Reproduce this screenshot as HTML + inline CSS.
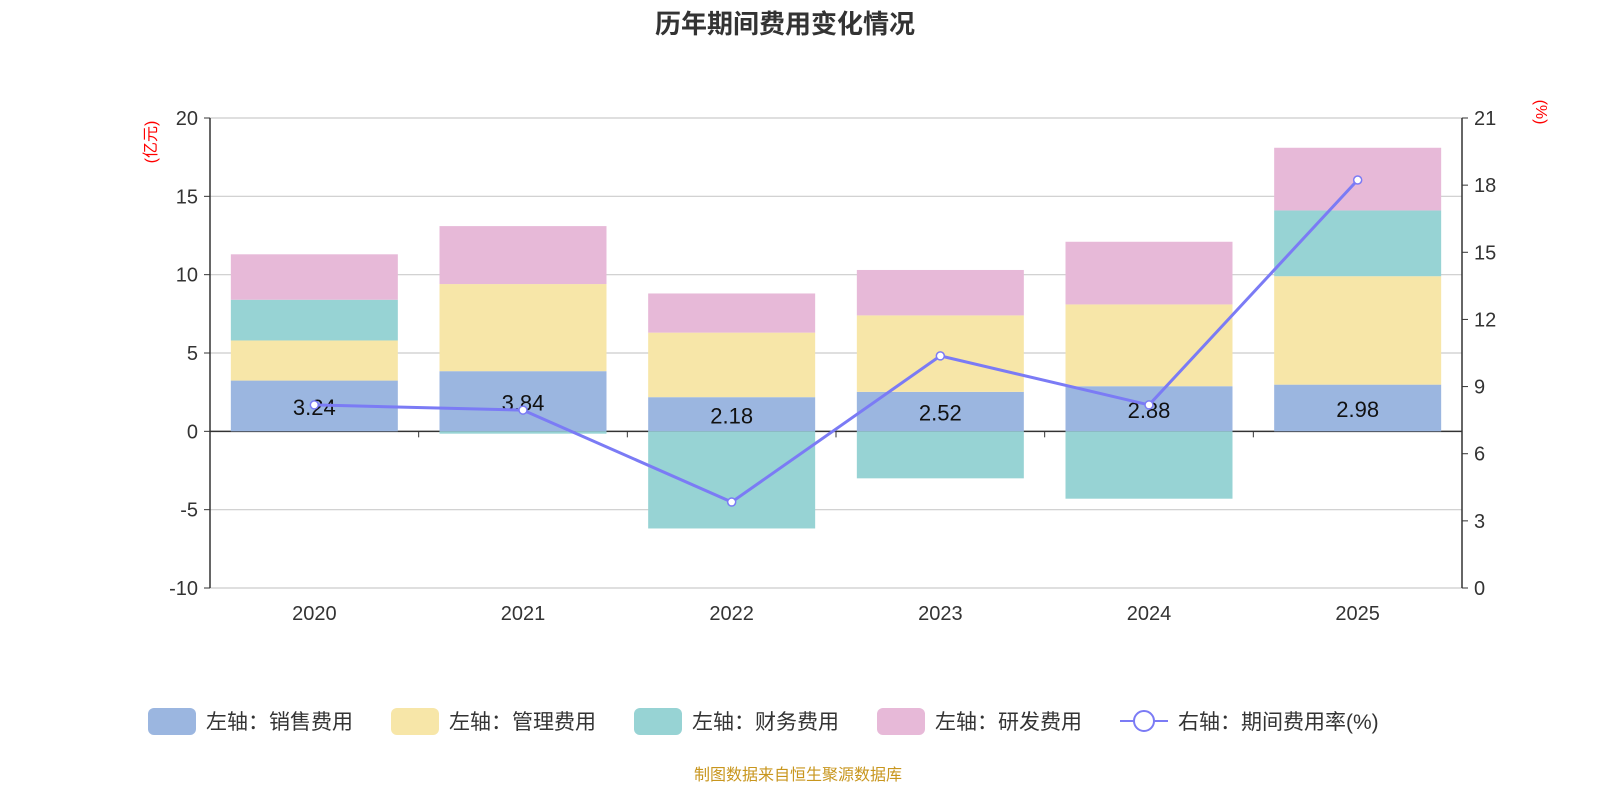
<!DOCTYPE html>
<html><head><meta charset="utf-8"><style>
body{margin:0;background:#fff;font-family:"Liberation Sans","Noto Sans CJK SC",sans-serif;}
svg text{font-family:"Liberation Sans","Noto Sans CJK SC",sans-serif;}
</style></head><body>
<svg id="c" width="1600" height="800" xmlns="http://www.w3.org/2000/svg">
<text x="785" y="33" text-anchor="middle" font-size="26" font-weight="bold" fill="#333">历年期间费用变化情况</text>
<text x="798" y="780" text-anchor="middle" font-size="16" fill="#c8961e">制图数据来自恒生聚源数据库</text>
</svg>
<script>
const categories=["2020","2021","2022","2023","2024","2025"];
const sales=[3.24,3.84,2.18,2.52,2.88,2.98];
const mgmt=[2.56,5.56,4.12,4.88,5.22,6.92];
const finance=[2.6,-0.15,-6.2,-3.0,-4.3,4.2];
const rnd=[2.9,3.7,2.5,2.9,4.0,4.0];
const rate=[8.18,7.95,3.84,10.37,8.18,18.23];
const leftTicks=[20,15,10,5,0,-5,-10];
const rightTicks=[21,18,15,12,9,6,3,0];
const NS="http://www.w3.org/2000/svg";
const svg=document.getElementById('c');
const X0=210,X1=1462,YT=118,YB=588;
const yL=v=>YT+(20-v)/30*(YB-YT);
const yR=v=>YB-v/21*(YB-YT);
const bw=(X1-X0)/categories.length;
const xc=i=>X0+bw*(i+0.5);
function mk(t,a,p){const e=document.createElementNS(NS,t);for(const k in a)e.setAttribute(k,a[k]);(p||svg).appendChild(e);return e;}
leftTicks.forEach(v=>{
 const g=mk('line',{x1:X0,x2:X1,y1:yL(v),y2:yL(v),stroke:v===0?'#333':'#ccc','stroke-width':v===0?1.5:1.2});
 
 
 mk('line',{x1:X0-6,x2:X0,y1:yL(v),y2:yL(v),stroke:'#333'});
 const t=mk('text',{x:X0-12,y:yL(v)+7,'text-anchor':'end','font-size':20,fill:'#333'});t.textContent=v;
 
 
});
rightTicks.forEach(v=>{
 mk('line',{x1:X1,x2:X1+6,y1:yR(v),y2:yR(v),stroke:'#333'});
 const t=mk('text',{x:X1+12,y:yR(v)+7,'font-size':20,fill:'#333'});t.textContent=v;
 
 
});
mk('line',{x1:X0,x2:X0,y1:YT,y2:YB,stroke:'#333','stroke-width':1.5});
mk('line',{x1:X1,x2:X1,y1:YT,y2:YB,stroke:'#333','stroke-width':1.5});
for(let i=1;i<categories.length;i++)mk('line',{x1:X0+bw*i,x2:X0+bw*i,y1:yL(0),y2:yL(0)+6,stroke:'#333'});
let t=mk('text',{x:0,y:0,'font-size':16,fill:'red',transform:`translate(156,142) rotate(-90)`,'text-anchor':'middle'});t.textContent='(亿元)';

t=mk('text',{x:0,y:0,'font-size':16,fill:'red',transform:`translate(1536,112) rotate(90)`,'text-anchor':'middle'});t.textContent='(%)';

const series=[[sales,'#9bb6e0','sales'],[mgmt,'#f7e6a8','mgmt'],[finance,'#97d3d4','finance'],[rnd,'#e7b9d8','rnd']];
const BW=167;
categories.forEach((c,i)=>{
 let pos=0,neg=0;
 series.forEach(([arr,col,nm])=>{
  const v=arr[i];let a,b;
  if(v>=0){a=pos;b=pos+v;pos=b;}else{a=neg;b=neg+v;neg=b;}
  const r=mk('rect',{x:xc(i)-BW/2,width:BW,y:Math.min(yL(a),yL(b)),height:Math.abs(yL(a)-yL(b)),fill:col});
  
  
 });
 const l=mk('text',{x:xc(i),y:(yL(0)+yL(sales[i]))/2+9,'text-anchor':'middle','font-size':22,fill:'#111'});l.textContent=sales[i].toFixed(2);
 
 
 const xt=mk('text',{x:xc(i),y:620,'text-anchor':'middle','font-size':20,fill:'#333'});xt.textContent=c;
 
 
});
const pl=mk('polyline',{points:rate.map((v,i)=>xc(i)+','+yR(v)).join(' '),fill:'none',stroke:'#7b7bf5','stroke-width':3});


rate.forEach((v,i)=>{const p=mk('circle',{cx:xc(i),cy:yR(v),r:4,fill:'#fff',stroke:'#7b7bf5','stroke-width':1.5});
 
 });
const legend=[['左轴：销售费用','#9bb6e0',148],['左轴：管理费用','#f7e6a8',391],['左轴：财务费用','#97d3d4',634],['左轴：研发费用','#e7b9d8',877]];
legend.forEach(([txt,col,x])=>{
 const g=mk('g',{});
 
 
 mk('rect',{x:x,y:708,width:48,height:27,rx:6,fill:col},g);
 const tt=mk('text',{x:x+58,y:729,'font-size':21,fill:'#333'},g);tt.textContent=txt;
});
const g=mk('g',{});


mk('line',{x1:1120,x2:1168,y1:721,y2:721,stroke:'#7b7bf5','stroke-width':2},g);
mk('circle',{cx:1144,cy:721,r:10,fill:'#fff',stroke:'#7b7bf5','stroke-width':2},g);
const tt=mk('text',{x:1178,y:729,'font-size':21,fill:'#333'},g);tt.textContent='右轴：期间费用率(%)';
</script>
</body></html>
